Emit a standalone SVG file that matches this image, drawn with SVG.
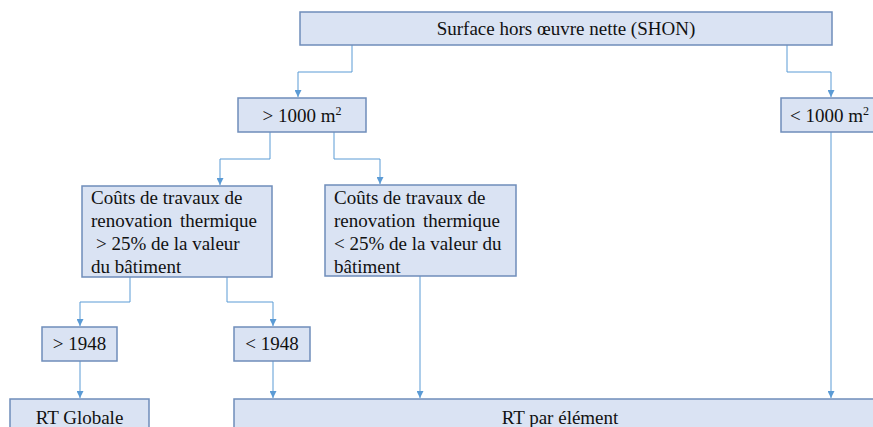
<svg xmlns="http://www.w3.org/2000/svg" width="873" height="427" viewBox="0 0 873 427">
<defs>
<marker id="ah" viewBox="0 0 8 8" refX="8" refY="4" markerWidth="7" markerHeight="7" markerUnits="userSpaceOnUse" orient="auto">
<path d="M0,0 L8,4 L0,8 Z" fill="#5b9bd5"/>
</marker>
<style>
.box{fill:#dae3f3;stroke:#6f8dba;stroke-width:1.5}
.t{font-family:"Liberation Serif","Times New Roman",serif;font-size:19px;fill:#111}
.c{text-anchor:middle}
.ln{fill:none;stroke:#5b9bd5;stroke-width:1}
</style>
</defs>
<rect width="873" height="427" fill="#fff"/>
<g id="connectors">
<path class="ln" d="M352,45 V72 H298 V97" marker-end="url(#ah)"/>
<path class="ln" d="M787,45 V72 H831 V97" marker-end="url(#ah)"/>
<path class="ln" d="M270,132 V159 H220 V185" marker-end="url(#ah)"/>
<path class="ln" d="M334,132 V159 H380 V184" marker-end="url(#ah)"/>
<path class="ln" d="M130,277 V302 H80 V326" marker-end="url(#ah)"/>
<path class="ln" d="M227,277 V302 H273 V326" marker-end="url(#ah)"/>
<path class="ln" d="M80,361 V398" marker-end="url(#ah)"/>
<path class="ln" d="M273,361 V398" marker-end="url(#ah)"/>
<path class="ln" d="M420,276 V398" marker-end="url(#ah)"/>
<path class="ln" d="M831,132 V398" marker-end="url(#ah)"/>
</g>
<g id="shon">
<rect class="box" x="300" y="12" width="532" height="33"/>
<text class="t c" x="566" y="35">Surface hors œuvre nette (SHON)</text>
</g>
<g id="sup1000">
<rect class="box" x="238" y="98" width="128" height="34"/>
<text class="t c" x="302" y="122">&gt; 1000 m<tspan font-size="12" dy="-7">2</tspan></text>
</g>
<g id="inf1000">
<rect class="box" x="781" y="98" width="96" height="34"/>
<text class="t" x="790" y="122">&lt; 1000 m<tspan font-size="12" dy="-7">2</tspan></text>
</g>
<g id="cout-sup">
<rect class="box" x="82" y="186" width="190" height="91"/>
<text class="t" x="91" y="204">Coûts de travaux de</text>
<text class="t" x="91" y="227" word-spacing="3">renovation thermique</text>
<text class="t" x="96" y="250">&gt; 25% de la valeur</text>
<text class="t" x="91" y="273">du bâtiment</text>
</g>
<g id="cout-inf">
<rect class="box" x="325" y="185" width="191" height="91"/>
<text class="t" x="334" y="204">Coûts de travaux de</text>
<text class="t" x="334" y="227" word-spacing="3">renovation thermique</text>
<text class="t" x="334" y="250">&lt; 25% de la valeur du</text>
<text class="t" x="334" y="273">bâtiment</text>
</g>
<g id="sup1948">
<rect class="box" x="42" y="327" width="75" height="34"/>
<text class="t c" x="79.5" y="350">&gt; 1948</text>
</g>
<g id="inf1948">
<rect class="box" x="234" y="327" width="76" height="34"/>
<text class="t c" x="272" y="350">&lt; 1948</text>
</g>
<g id="rt-globale">
<rect class="box" x="10" y="399" width="139" height="40"/>
<text class="t c" x="79.5" y="424">RT Globale</text>
</g>
<g id="rt-element">
<rect class="box" x="234" y="399" width="650" height="40"/>
<text class="t c" x="560" y="424">RT par élément</text>
</g>
</svg>
